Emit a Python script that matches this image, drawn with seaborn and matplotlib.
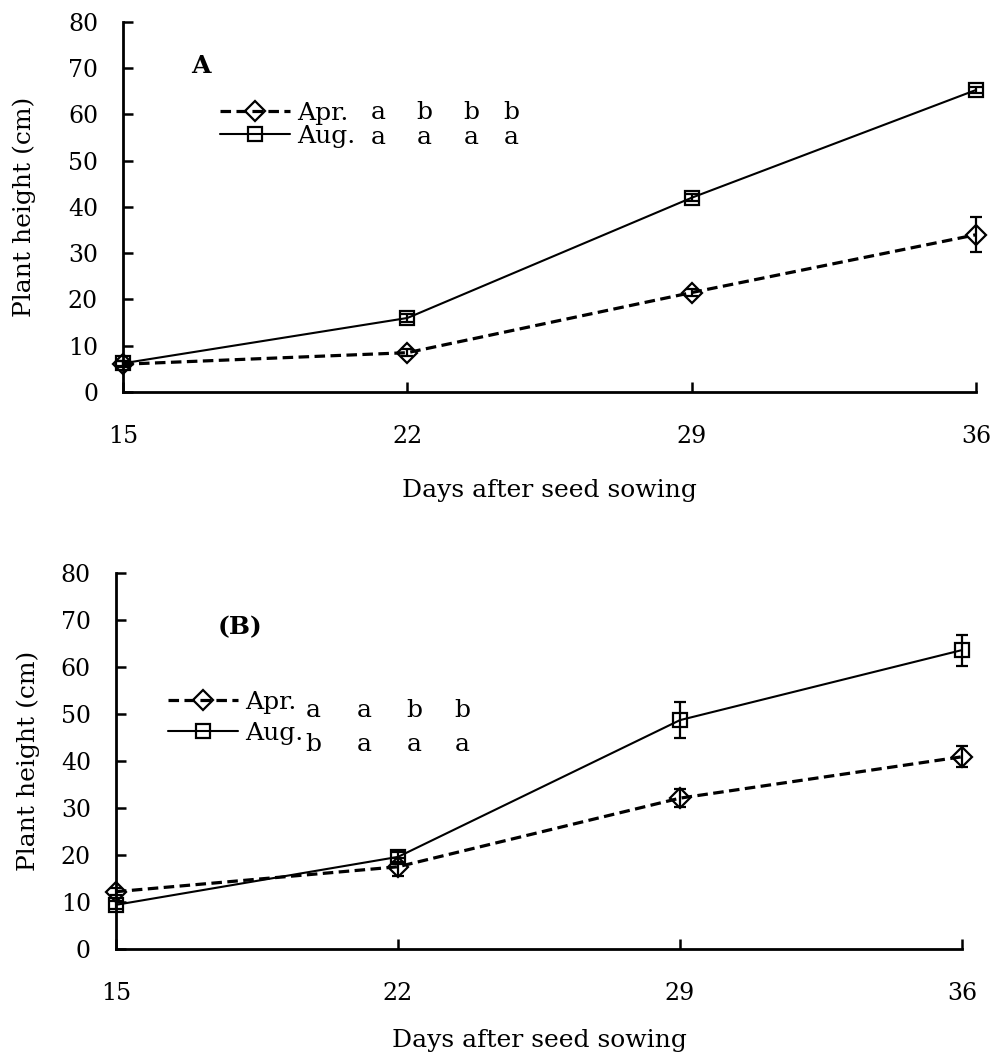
import numpy as np
import pandas as pd
import matplotlib
matplotlib.use("Agg")
import matplotlib.pyplot as plt
import seaborn as sns

# ---- data ----
days = [15, 22, 29, 36]
xticks = [15, 22, 29, 36]
yticks = [0, 10, 20, 30, 40, 50, 60, 70, 80]

a_apr = [6.0, 8.5, 21.5, 34.0]
a_apr_err = [0.6, 0.8, 0.8, 3.8]
a_aug = [6.2, 16.0, 42.0, 65.3]
a_aug_err = [0.6, 0.8, 0.8, 0.7]

b_apr = [12.2, 17.5, 32.1, 40.9]
b_apr_err = [0.8, 1.9, 1.9, 2.2]
b_aug = [9.4, 19.6, 48.7, 63.6]
b_aug_err = [0.8, 1.0, 3.8, 3.3]

a_apr_letters = ["a", "b", "b", "b"]
a_aug_letters = ["a", "a", "a", "a"]
b_apr_letters = ["a", "a", "b", "b"]
b_aug_letters = ["b", "a", "a", "a"]

sns.set_style("ticks", {"axes.edgecolor": "black", "text.color": "black",
                        "xtick.color": "black", "ytick.color": "black",
                        "axes.labelcolor": "black"})
plt.rcParams["font.family"] = ["DejaVu Serif"]
FS_TICK = 17
FS = 18

fig = plt.figure(figsize=(9.97, 10.56), dpi=100)
axA = fig.add_axes([0.1234, 0.6288, 0.8556, 0.3504])
axB = fig.add_axes([0.1163, 0.1013, 0.8486, 0.3561])


def panel(ax, apr, apr_err, aug, aug_err):
    df_apr = pd.DataFrame({"day": days, "height": apr})
    df_aug = pd.DataFrame({"day": days, "height": aug})
    ax.errorbar(days, aug, yerr=aug_err, fmt="none", ecolor="black",
                elinewidth=1.6, capsize=4.5, capthick=1.6, zorder=3)
    ax.errorbar(days, apr, yerr=apr_err, fmt="none", ecolor="black",
                elinewidth=1.6, capsize=4.5, capthick=1.6, zorder=3)
    sns.lineplot(data=df_aug, x="day", y="height", ax=ax, color="black",
                 linewidth=1.5, marker="s", markersize=9.5,
                 markerfacecolor="none", markeredgecolor="black",
                 markeredgewidth=1.6, zorder=4)
    l_aug = ax.lines[-1]
    sns.lineplot(data=df_apr, x="day", y="height", ax=ax, color="black",
                 linewidth=2.3, marker="D", markersize=10,
                 markerfacecolor="none", markeredgecolor="black",
                 markeredgewidth=1.6, zorder=4)
    l_apr = ax.lines[-1]
    l_apr.set_linestyle((0, (3.3, 1.7)))
    for ch in ax.get_children():
        try:
            ch.set_clip_on(False)
        except Exception:
            pass
    ax.set_xlim(15, 36)
    ax.set_ylim(0, 80)
    ax.set_xticks(xticks)
    ax.set_yticks(yticks)
    ax.tick_params(axis="both", direction="in", length=7, width=1.8,
                   labelsize=FS_TICK)
    ax.tick_params(axis="x", pad=23.5)
    ax.tick_params(axis="y", pad=18)
    for s in ["left", "bottom"]:
        ax.spines[s].set_linewidth(2.0)
    sns.despine(ax=ax)
    ax.set_xlabel("Days after seed sowing", fontsize=FS)
    ax.set_ylabel("Plant height (cm)", fontsize=FS)
    return l_apr, l_aug


# ---- Panel A ----
l_apr, l_aug = panel(axA, a_apr, a_apr_err, a_aug, a_aug_err)
axA.xaxis.set_label_coords(0.5, -0.236)
axA.yaxis.set_label_coords(-0.102, 0.5)
axA.text(0.0914, 0.881, "A", transform=axA.transAxes, fontsize=FS,
         fontweight="bold", ha="center", va="center")
axA.legend([l_apr, l_aug], ["Apr.", "Aug."], loc="upper left",
           bbox_to_anchor=(0.1137, 0.784), frameon=False, fontsize=FS,
           handlelength=2.8, handletextpad=0.3, labelspacing=0.0,
           borderpad=0, borderaxespad=0)
for i, (la, lg) in enumerate(zip(a_apr_letters, a_aug_letters)):
    xf = [0.299, 0.353, 0.408, 0.455][i]
    axA.text(xf, 0.754, la, transform=axA.transAxes, fontsize=FS,
             ha="center", va="center")
    axA.text(xf, 0.689, lg, transform=axA.transAxes, fontsize=FS,
             ha="center", va="center")

# ---- Panel B ----
l_apr, l_aug = panel(axB, b_apr, b_apr_err, b_aug, b_aug_err)
axB.xaxis.set_label_coords(0.5, -0.212)
axB.yaxis.set_label_coords(-0.0898, 0.5)
axB.text(0.1466, 0.856, "(B)", transform=axB.transAxes, fontsize=FS,
         fontweight="bold", ha="center", va="center")
axB.legend([l_apr, l_aug], ["Apr.", "Aug."], loc="upper left",
           bbox_to_anchor=(0.0615, 0.686), frameon=False, fontsize=FS,
           handlelength=2.8, handletextpad=0.3, labelspacing=0.3,
           borderpad=0, borderaxespad=0)
for i, (la, lg) in enumerate(zip(b_apr_letters, b_aug_letters)):
    xf = [0.2329, 0.2931, 0.3522, 0.4090][i]
    axB.text(xf, 0.633, la, transform=axB.transAxes, fontsize=FS,
             ha="center", va="center")
    axB.text(xf, 0.545, lg, transform=axB.transAxes, fontsize=FS,
             ha="center", va="center")

fig.savefig("out.png", dpi=100)
